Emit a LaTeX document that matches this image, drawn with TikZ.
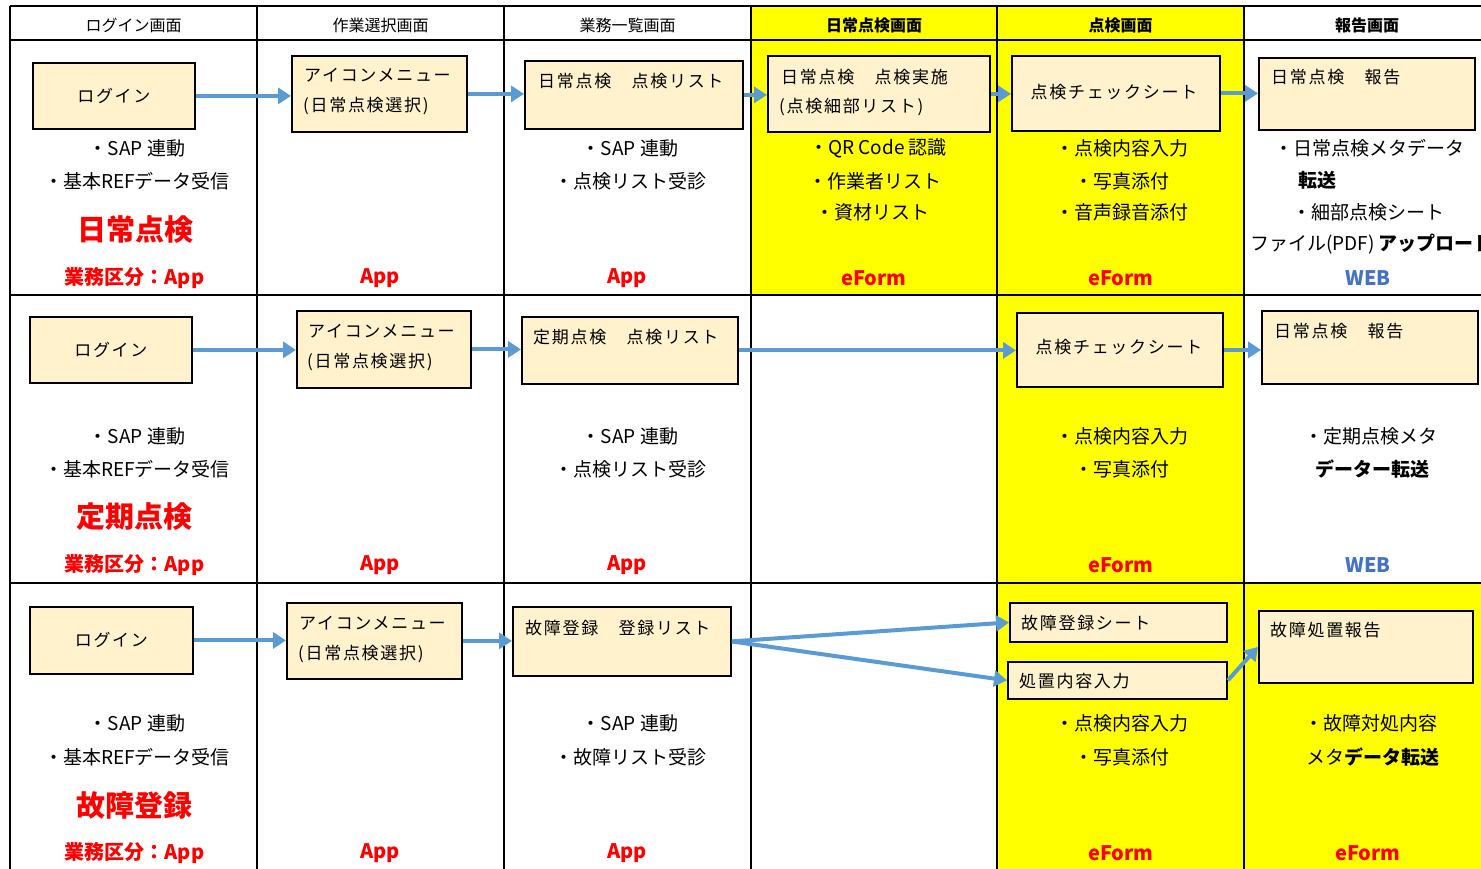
\documentclass[tikz,border=0pt]{standalone}
\usepackage{fontspec}
\setmainfont{Noto Sans CJK JP}
\newfontfamily\boxfont[LetterSpace=10]{Noto Sans CJK JP}
\usetikzlibrary{arrows.meta}
\definecolor{boxfill}{HTML}{FFF2CC}
\definecolor{arrblue}{HTML}{5B9BD5}
\definecolor{webblue}{HTML}{4472C4}
\definecolor{hiyellow}{HTML}{FFFF00}
\tikzset{
  grid/.style={line width=1.6pt, black},
  box/.style={draw=black, line width=1.8pt, fill=boxfill, anchor=north west, inner sep=0pt},
  btxt/.style={font=\boxfont\fontsize{17}{17}\selectfont, inner sep=0pt, anchor=west},
  hdr/.style={font=\fontsize{16}{16}\selectfont, inner sep=0pt},
  bul/.style={font=\fontsize{19}{19}\selectfont, inner sep=0pt},
  big/.style={font=\fontsize{29}{29}\selectfont\bfseries, text=red, inner sep=0pt},
  tag/.style={font=\fontsize{20}{20}\selectfont\bfseries, text=red, inner sep=0pt},
  webtag/.style={font=\fontsize{20}{20}\selectfont\bfseries, text=webblue, inner sep=0pt},
  arr/.style={draw=arrblue, line width=4pt, -{Triangle[length=13pt,width=16pt]}},
}
\begin{document}
\begin{tikzpicture}[x=1pt,y=-1pt]
\useasboundingbox (0,0) rectangle (1481,869);
\clip (0,0) rectangle (1481,869);
\fill[white] (0,0) rectangle (1481,869);
% yellow cells
\fill[hiyellow] (751,6) rectangle (1244,295);
\fill[hiyellow] (997,295) rectangle (1244,880);
\fill[hiyellow] (1244,583) rectangle (1500,880);
% grid
\foreach \x in {10,257,504,751,997,1244} \draw[grid] (\x,6) -- (\x,880);
\foreach \y in {6,40,295,583} \draw[grid] (10,\y) -- (1500,\y);
% headers
\node[hdr] (h1) at (133.5,25) {ログイン画面};
\node[hdr] (h2) at (380.5,25) {作業選択画面};
\node[hdr] (h3) at (627.5,25) {業務一覧画面};
\node[hdr, font=\fontsize{16}{16}\selectfont\bfseries] (h4) at (874,25) {日常点検画面};
\node[hdr, font=\fontsize{16}{16}\selectfont\bfseries] (h5) at (1120.5,25) {点検画面};
\node[hdr, font=\fontsize{16}{16}\selectfont\bfseries] (h6) at (1367,25) {報告画面};

% ---------------- Row 1 ----------------
\node[box, minimum width=162pt, minimum height=66pt] (a1) at (32,62) {};
\node[btxt, anchor=center] (a1t) at (a1.center) {ログイン};
\node[box, minimum width=175pt, minimum height=76pt] (a2) at (291,55) {};
\node[btxt] (a2t) at (304,75) {アイコンメニュー};
\node[btxt] (a2u) at (303,106) {(日常点検選択)};
\node[box, minimum width=218pt, minimum height=68pt] (a3) at (524,60) {};
\node[btxt] (a3t) at (538,81) {日常点検　点検リスト};
\node[box, minimum width=222pt, minimum height=76pt] (a4) at (767,55) {};
\node[btxt] (a4t) at (781,77) {日常点検　点検実施};
\node[btxt] (a4u) at (779,107) {(点検細部リスト)};
\node[box, minimum width=208pt, minimum height=75pt] (a5) at (1011,55) {};
\node[btxt, anchor=center] (a5t) at (1114,92) {点検チェックシート};
\node[box, minimum width=216pt, minimum height=72pt] (a6) at (1258,57) {};
\node[btxt] (a6t) at (1271,77) {日常点検　報告};

\draw[arr] (a1.east) -- (a1.east -| a2.west);
\draw[arr] (a2.east) -- (a2.east -| a3.west);
\draw[arr] (a3.east) -- (a3.east -| a4.west);
\draw[arr] (a4.east) -- (a4.east -| a5.west);
\draw[arr] (a5.east) -- (a5.east -| a6.west);

\node[bul] (r1c1a) at (137,148) {・SAP 連動};
\node[bul] (r1c1b) at (137,181) {・基本REFデータ受信};
\node[big] (r1c1c) at (135,230) {日常点検};
\node[tag] (r1c1d) at (134.5,278) {業務区分：App};
\node[tag] (r1c2) at (380,278) {App};
\node[bul] (r1c3a) at (630,148) {・SAP 連動};
\node[bul] (r1c3b) at (630,181) {・点検リスト受診};
\node[tag] (r1c3c) at (627,278) {App};
\node[bul] (r1c4a) at (878,148) {・QR Code 認識};
\node[bul] (r1c4b) at (875,181) {・作業者リスト};
\node[bul] (r1c4c) at (872,212) {・資材リスト};
\node[tag] (r1c4d) at (874,278) {eForm};
\node[bul] (r1c5a) at (1122,148) {・点検内容入力};
\node[bul] (r1c5b) at (1122,181) {・写真添付};
\node[bul] (r1c5c) at (1122,212) {・音声録音添付};
\node[tag] (r1c5d) at (1121,278) {eForm};
\node[bul] (r1c6a) at (1369,148) {・日常点検メタデータ};
\node[bul, anchor=west, font=\fontsize{19}{19}\selectfont\bfseries] (r1c6b) at (1298,180) {転送};
\node[bul] (r1c6c) at (1368,212) {・細部点検シート};
\node[bul, anchor=west] (r1c6d) at (1250,244) {ファイル(PDF) {\bfseries アップロード}};
\node[webtag] (r1c6e) at (1368,278) {WEB};

% ---------------- Row 2 ----------------
\node[box, minimum width=162pt, minimum height=66pt] (b1) at (29,316) {};
\node[btxt, anchor=center] (b1t) at (b1.center) {ログイン};
\node[box, minimum width=174pt, minimum height=77pt] (b2) at (296,310) {};
\node[btxt] (b2t) at (308,331) {アイコンメニュー};
\node[btxt] (b2u) at (307,362) {(日常点検選択)};
\node[box, minimum width=216pt, minimum height=67pt] (b3) at (521,316) {};
\node[btxt] (b3t) at (533,337) {定期点検　点検リスト};
\node[box, minimum width=206pt, minimum height=74pt] (b5) at (1016,312) {};
\node[btxt, anchor=center] (b5t) at (1119,347) {点検チェックシート};
\node[box, minimum width=216pt, minimum height=73pt] (b6) at (1261,310) {};
\node[btxt] (b6t) at (1274,331) {日常点検　報告};

\draw[arr] (b1.east) -- (b1.east -| b2.west);
\draw[arr] (b2.east) -- (b2.east -| b3.west);
\draw[arr] (b3.east) -- (b3.east -| b5.west);
\draw[arr] (b5.east) -- (b5.east -| b6.west);

\node[bul] (r2c1a) at (137,436) {・SAP 連動};
\node[bul] (r2c1b) at (137,469) {・基本REFデータ受信};
\node[big] (r2c1c) at (134,517) {定期点検};
\node[tag] (r2c1d) at (134.5,565) {業務区分：App};
\node[tag] (r2c2) at (380,565) {App};
\node[bul] (r2c3a) at (630,436) {・SAP 連動};
\node[bul] (r2c3b) at (630,469) {・点検リスト受診};
\node[tag] (r2c3c) at (627,565) {App};
\node[bul] (r2c5a) at (1122,436) {・点検内容入力};
\node[bul] (r2c5b) at (1122,469) {・写真添付};
\node[tag] (r2c5c) at (1121,565) {eForm};
\node[bul] (r2c6a) at (1371,436) {・定期点検メタ};
\node[bul, font=\fontsize{19}{19}\selectfont\bfseries] (r2c6b) at (1372,469) {データー転送};
\node[webtag] (r2c6c) at (1368,565) {WEB};

% ---------------- Row 3 ----------------
\node[box, minimum width=163pt, minimum height=67pt] (c1) at (29,606) {};
\node[btxt, anchor=center] (c1t) at (c1.center) {ログイン};
\node[box, minimum width=175pt, minimum height=76pt] (c2) at (286,602) {};
\node[btxt] (c2t) at (299,623) {アイコンメニュー};
\node[btxt] (c2u) at (298,654) {(日常点検選択)};
\node[box, minimum width=218pt, minimum height=69pt] (c3) at (512,606) {};
\node[btxt] (c3t) at (525,628) {故障登録　登録リスト};
\node[box, minimum width=217pt, minimum height=39pt] (c5a) at (1009,602) {};
\node[btxt] (c5at) at (1021,623) {故障登録シート};
\node[box, minimum width=219pt, minimum height=37pt] (c5b) at (1007,661) {};
\node[btxt] (c5bt) at (1019,681) {処置内容入力};
\node[box, minimum width=214pt, minimum height=72pt] (c6) at (1258,610) {};
\node[btxt] (c6t) at (1270,630) {故障処置報告};

\draw[arr] (c1.east) -- (c1.east -| c2.west);
\draw[arr] (c2.east) -- (c2.east -| c3.west);
\draw[arr] (c3.east) -- (c5a.west);
\draw[arr] (c3.east) -- (c5b.west);
\draw[arr] (c5b.east) -- (c6.west);

\node[bul] (r3c1a) at (137,723) {・SAP 連動};
\node[bul] (r3c1b) at (137,757) {・基本REFデータ受信};
\node[big] (r3c1c) at (134,805) {故障登録};
\node[tag] (r3c1d) at (134.5,853) {業務区分：App};
\node[tag] (r3c2) at (380,853) {App};
\node[bul] (r3c3a) at (630,723) {・SAP 連動};
\node[bul] (r3c3b) at (630,757) {・故障リスト受診};
\node[tag] (r3c3c) at (627,853) {App};
\node[bul] (r3c5a) at (1122,723) {・点検内容入力};
\node[bul] (r3c5b) at (1122,757) {・写真添付};
\node[tag] (r3c5c) at (1121,853) {eForm};
\node[bul] (r3c6a) at (1371,723) {・故障対処内容};
\node[bul] (r3c6b) at (1373,757) {メタ{\bfseries データ転送}};
\node[tag] (r3c6c) at (1368,853) {eForm};
\end{tikzpicture}
\end{document}
